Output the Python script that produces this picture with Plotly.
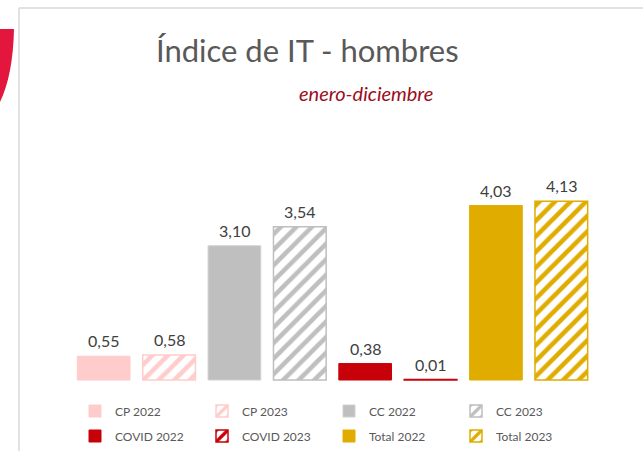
import plotly.graph_objects as go

# ---- data ----
series_names = ["CP 2022", "CP 2023", "CC 2022", "CC 2023",
                "COVID 2022", "COVID 2023", "Total 2022", "Total 2023"]
values = [0.55, 0.58, 3.10, 3.54, 0.38, 0.01, 4.03, 4.13]
colors = ["#FFCCCC", "#FFCCCC", "#BFBFBF", "#BFBFBF",
          "#C8000A", "#C8000A", "#E0AC00", "#E0AC00"]
patterned = [False, True, False, True, False, True, False, True]
legend_row = ["legend", "legend", "legend", "legend",
              "legend2", "legend2", "legend2", "legend2"]

W, H = 643, 451
ML, MR, MT, MB = 71, 49, 110, 0
PW = W - ML - MR
PH = H - MT - MB
PX_PER_UNIT = 43.3
BASELINE_PX = 380
Y_MIN = -(H - MB - BASELINE_PX) / PX_PER_UNIT
Y_MAX = Y_MIN + PH / PX_PER_UNIT


def px(x):
    return (x - ML) / PW


def py(y):
    return (H - MB - y) / PH


fig = go.Figure()
for name, v, c, pat, lg in zip(series_names, values, colors, patterned, legend_row):
    if pat:
        marker = dict(color=c,
                      pattern=dict(shape="/", fillmode="replace", bgcolor="white",
                                   fgcolor=c, size=11, solidity=0.42),
                      line=dict(color=c, width=1.5))
    else:
        lc = "#D0D0D0" if name == "CC 2022" else c
        marker = dict(color=c, line=dict(color=lc, width=1))
    fig.add_trace(go.Bar(x=[name], y=[v], base=0, name=name, marker=marker,
                         legend=lg, hoverinfo="skip"))
    fig.add_annotation(x=name, y=v, xref="x", yref="y",
                       text=f"{v:.2f}".replace(".", ","), showarrow=False,
                       yanchor="bottom", yshift=4,
                       font=dict(family="Lato, Open Sans, sans-serif", size=16,
                                 color="#404040"))

# titles
fig.add_annotation(x=px(307), y=py(50), xref="paper", yref="paper",
                   text="Índice de IT - hombres", showarrow=False,
                   xanchor="center", yanchor="middle",
                   font=dict(family="Lato, Open Sans, sans-serif", size=31,
                             color="#595959"))
fig.add_annotation(x=px(366), y=py(93), xref="paper", yref="paper",
                   text="<i>enero-diciembre</i>", showarrow=False,
                   xanchor="center", yanchor="middle",
                   font=dict(family="Lato, Open Sans, sans-serif", size=20,
                             color="#9B0D1B"))

# frame lines and red decoration
fig.add_shape(type="line", xref="paper", yref="paper",
              x0=px(19), x1=px(19), y0=py(8), y1=py(451),
              line=dict(color="#D9D9D9", width=1.5))
fig.add_shape(type="line", xref="paper", yref="paper",
              x0=px(19), x1=px(643), y0=py(8), y1=py(8),
              line=dict(color="#D9D9D9", width=1.5))
path = (f"M {px(0)},{py(29)} L {px(14)},{py(29)} "
        f"Q {px(13)},{py(75)} {px(0)},{py(102)} Z")
fig.add_shape(type="path", xref="paper", yref="paper", path=path,
              fillcolor="#E3173E", line=dict(width=0))

legend_font = dict(family="Lato, Open Sans, sans-serif", size=12, color="#595959")
common_legend = dict(orientation="h", xanchor="left", yanchor="middle",
                     entrywidth=82, entrywidthmode="pixels",
                     font=legend_font, traceorder="normal",
                     bgcolor="rgba(0,0,0,0)")

fig.update_layout(
    width=W, height=H,
    margin=dict(l=ML, r=MR, t=MT, b=MB),
    paper_bgcolor="white", plot_bgcolor="white",
    barmode="overlay", bargap=0.194,
    separators=",.",
    showlegend=True,
    legend=dict(x=px(75), y=py(411), **common_legend),
    legend2=dict(x=px(75), y=py(436), **common_legend),
    xaxis=dict(visible=False, range=[-0.5, 7.5]),
    yaxis=dict(visible=False, range=[Y_MIN, Y_MAX]),
)

fig.write_html("out.html", config={"displayModeBar": False},
               post_script="document.body.style.margin='0px';")
